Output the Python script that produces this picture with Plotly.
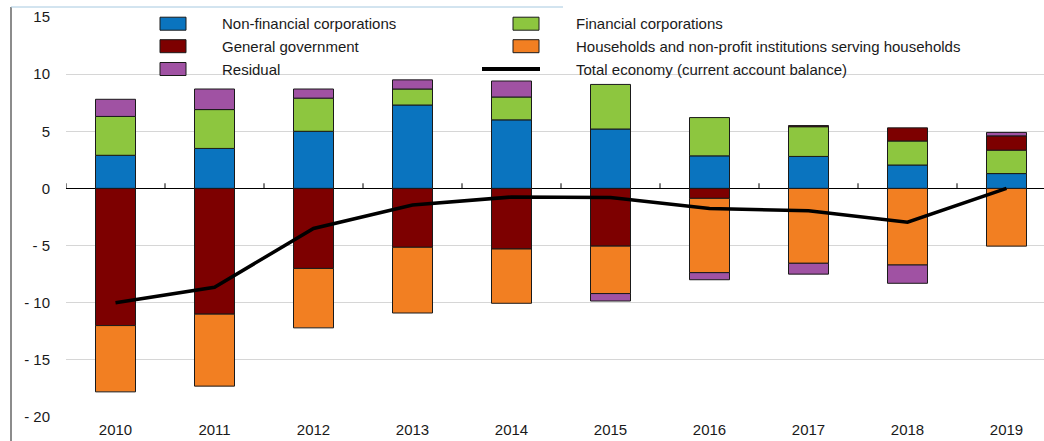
import plotly.graph_objects as go

years = ["2010", "2011", "2012", "2013", "2014", "2015", "2016", "2017", "2018", "2019"]
non_financial = [2.9, 3.5, 5.0, 7.3, 6.0, 5.2, 2.85, 2.8, 2.05, 1.3]
financial = [3.4, 3.4, 2.9, 1.4, 2.0, 3.9, 3.35, 2.6, 2.1, 2.05]
general_gov = [-12.0, -11.0, -7.0, -5.15, -5.3, -5.05, -0.87, 0.1, 1.15, 1.25]
households = [-5.8, -6.3, -5.2, -5.75, -4.75, -4.15, -6.5, -6.55, -6.7, -5.05]
residual = [1.5, 1.8, 0.8, 0.8, 1.4, -0.65, -0.62, -0.95, -1.6, 0.3]
total = [-10.0, -8.65, -3.5, -1.45, -0.75, -0.8, -1.75, -1.95, -2.95, 0.0]

ytick_vals = [-20, -15, -10, -5, 0, 5, 10, 15]
ytick_text = ["- 20", "- 15", "- 10", "- 5", "0", "5", "10", "15"]

names = {
    "nfc": "Non-financial corporations",
    "fc": "Financial corporations",
    "gg": "General government",
    "hh": "Households and non-profit institutions serving households",
    "res": "Residual",
    "tot": "Total economy (current account balance)",
}
colors = {
    "nfc": "#0a74bf",
    "fc": "#8dc63f",
    "gg": "#7d0000",
    "hh": "#f27f22",
    "res": "#a052a3",
}

W, H = 1044, 441
L, R, T, B = 66, 0, 17, 24
PW, PH = W - L - R, H - T - B
FONT = "Arial, 'Liberation Sans', sans-serif"

def px(xp):
    return (xp - L) / PW

def py(yp):
    return 1 - (yp - T) / PH

fig = go.Figure()
series = [("nfc", non_financial), ("fc", financial), ("gg", general_gov),
          ("hh", households), ("res", residual)]
for key, vals in series:
    fig.add_trace(go.Bar(
        x=years, y=vals, name=names[key], width=0.404,
        marker=dict(color=colors[key], line=dict(color="#1a1a1a", width=1)),
        showlegend=False,
    ))
fig.add_trace(go.Scatter(
    x=years, y=total, name=names["tot"], mode="lines",
    line=dict(color="#000000", width=3.5), showlegend=False,
))

shapes = []
# small tick marks on the zero line at category boundaries
n = len(years)
for k in range(n):
    xb = k - 0.5
    shapes.append(dict(type="line", xref="x", yref="y", x0=xb, x1=xb, y0=0, y1=0.45,
                       line=dict(color="#000000", width=1)))
# frame decorations
shapes.append(dict(type="line", xref="paper", yref="paper", x0=px(11), x1=px(11),
                   y0=py(7), y1=py(441), line=dict(color="#666666", width=1.5)))
shapes.append(dict(type="line", xref="paper", yref="paper", x0=px(11), x1=px(563),
                   y0=py(7), y1=py(7), line=dict(color="#a6c9e0", width=1)))

annotations = []
legend_items = [
    ("nfc", 160, 220, 23.7), ("fc", 513, 574, 23.7),
    ("gg", 160, 220, 46.2), ("hh", 513, 574, 46.2),
    ("res", 160, 220, 69.0), ("tot", 513, 574, 69.0),
]
for key, sx, tx, cy in legend_items:
    if key == "tot":
        shapes.append(dict(type="line", xref="paper", yref="paper", x0=px(482), x1=px(540),
                           y0=py(cy), y1=py(cy), line=dict(color="#000000", width=4)))
    else:
        shapes.append(dict(type="rect", xref="paper", yref="paper", x0=px(sx), x1=px(sx + 26),
                           y0=py(cy - 6.5), y1=py(cy + 6.5), fillcolor=colors[key],
                           line=dict(color="#1a1a1a", width=1)))
    annotations.append(dict(xref="paper", yref="paper", x=px(tx), y=py(cy), text=names[key],
                            showarrow=False, xanchor="left", yanchor="middle",
                            font=dict(family=FONT, size=15, color="#1a1a1a")))

fig.update_layout(
    width=W, height=H,
    margin=dict(l=L, r=R, t=T, b=B, pad=0),
    barmode="relative",
    paper_bgcolor="white", plot_bgcolor="white",
    font=dict(family=FONT, size=15, color="#1a1a1a"),
    showlegend=False,
    shapes=shapes, annotations=annotations,
    xaxis=dict(range=[-0.5, -0.5 + PW / 99.0], showgrid=False, showline=False,
               zeroline=False, ticks="", tickfont=dict(size=15, color="#1a1a1a"),
               ticklabelstandoff=2),
    yaxis=dict(range=[-20, 15], tickvals=ytick_vals, ticktext=ytick_text,
               showgrid=True, gridcolor="#d6d6d6", gridwidth=1.4,
               zeroline=True, zerolinecolor="#000000", zerolinewidth=1,
               showline=False, ticks="", ticklabelstandoff=15,
               tickfont=dict(size=15, color="#1a1a1a")),
)

fig.write_html("out.html", config={"displayModeBar": False},
               post_script="document.body.style.margin='0';document.body.style.overflow='hidden';")
